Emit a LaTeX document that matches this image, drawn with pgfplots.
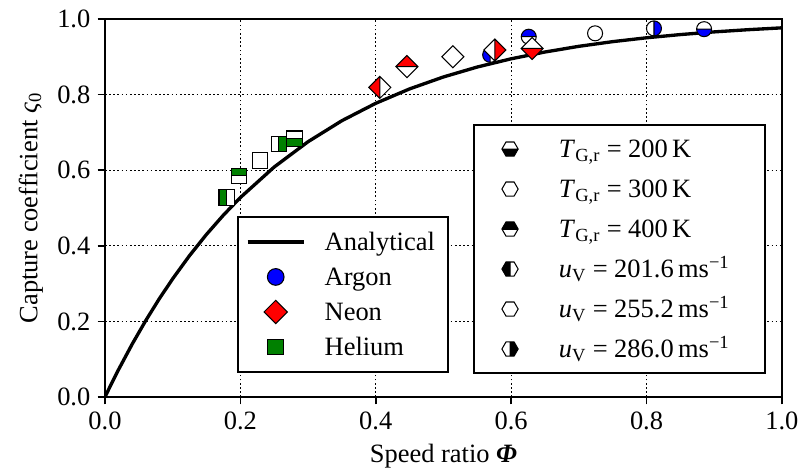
\documentclass[border=0pt]{standalone}
\usepackage{fontspec}
\setmainfont{Liberation Serif}
\usepackage{pgfplots}
\pgfplotsset{compat=1.18}
\definecolor{mgreen}{RGB}{0,128,0}
\newcommand\fs{\fontsize{12.7}{15}\selectfont}
\newcommand\eqs{\hspace{0.24em}=\hspace{0.24em}}
% ---- shapes
\newcommand\shpC{\pgfpathcircle{\pgfpointorigin}{\pgfplotmarksize}}
\newcommand\shpD{\pgfpathmoveto{\pgfqpoint{0pt}{\pgfplotmarksize}}\pgfpathlineto{\pgfqpoint{\pgfplotmarksize}{0pt}}\pgfpathlineto{\pgfqpoint{0pt}{-\pgfplotmarksize}}\pgfpathlineto{\pgfqpoint{-\pgfplotmarksize}{0pt}}\pgfpathclose}
\newcommand\shpS{\pgfpathrectangle{\pgfqpoint{-\pgfplotmarksize}{-\pgfplotmarksize}}{\pgfqpoint{2\pgfplotmarksize}{2\pgfplotmarksize}}}
\newcommand\shpH{\pgfpathmoveto{\pgfqpoint{\pgfplotmarksize}{0pt}}\pgfpathlineto{\pgfqpoint{0.5\pgfplotmarksize}{0.866\pgfplotmarksize}}\pgfpathlineto{\pgfqpoint{-0.5\pgfplotmarksize}{0.866\pgfplotmarksize}}\pgfpathlineto{\pgfqpoint{-\pgfplotmarksize}{0pt}}\pgfpathlineto{\pgfqpoint{-0.5\pgfplotmarksize}{-0.866\pgfplotmarksize}}\pgfpathlineto{\pgfqpoint{0.5\pgfplotmarksize}{-0.866\pgfplotmarksize}}\pgfpathclose}
% ---- clips (kept inside the mark's own extent)
\newcommand\clL{\pgfpathrectangle{\pgfqpoint{-1.05\pgfplotmarksize}{-1.05\pgfplotmarksize}}{\pgfqpoint{1.05\pgfplotmarksize}{2.1\pgfplotmarksize}}}
\newcommand\clR{\pgfpathrectangle{\pgfqpoint{0pt}{-1.05\pgfplotmarksize}}{\pgfqpoint{1.05\pgfplotmarksize}{2.1\pgfplotmarksize}}}
\newcommand\clT{\pgfpathrectangle{\pgfqpoint{-1.05\pgfplotmarksize}{0pt}}{\pgfqpoint{2.1\pgfplotmarksize}{1.05\pgfplotmarksize}}}
\newcommand\clB{\pgfpathrectangle{\pgfqpoint{-1.05\pgfplotmarksize}{-1.05\pgfplotmarksize}}{\pgfqpoint{2.1\pgfplotmarksize}{1.05\pgfplotmarksize}}}
% ---- dividers
\newcommand\dvV{\pgfpathmoveto{\pgfqpoint{0pt}{-\pgfplotmarksize}}\pgfpathlineto{\pgfqpoint{0pt}{\pgfplotmarksize}}}
\newcommand\dvVh{\pgfpathmoveto{\pgfqpoint{0pt}{-0.866\pgfplotmarksize}}\pgfpathlineto{\pgfqpoint{0pt}{0.866\pgfplotmarksize}}}
\newcommand\dvH{\pgfpathmoveto{\pgfqpoint{-\pgfplotmarksize}{0pt}}\pgfpathlineto{\pgfqpoint{\pgfplotmarksize}{0pt}}}
\newcommand\defhalf[4]{\pgfdeclareplotmark{#1}{%
  \begin{pgfscope}\pgfsetfillcolor{white}#2\pgfusepath{fill}\end{pgfscope}%
  \begin{pgfscope}#3\pgfusepath{clip}#2\pgfusepath{fill}\end{pgfscope}%
  #2#4\pgfusepath{stroke}}}
\newcommand\defnone[2]{\pgfdeclareplotmark{#1}{%
  \begin{pgfscope}\pgfsetfillcolor{white}#2\pgfusepath{fill}\end{pgfscope}%
  #2\pgfusepath{stroke}}}
\newcommand\deffull[2]{\pgfdeclareplotmark{#1}{#2\pgfusepath{fill,stroke}}}
\defhalf{cL}{\shpC}{\clL}{\dvV}\defhalf{cR}{\shpC}{\clR}{\dvV}
\defhalf{cT}{\shpC}{\clT}{\dvH}\defhalf{cB}{\shpC}{\clB}{\dvH}
\defhalf{dL}{\shpD}{\clL}{\dvV}\defhalf{dR}{\shpD}{\clR}{\dvV}
\defhalf{dT}{\shpD}{\clT}{\dvH}\defhalf{dB}{\shpD}{\clB}{\dvH}
\defhalf{sL}{\shpS}{\clL}{\dvV}\defhalf{sR}{\shpS}{\clR}{\dvV}
\defhalf{sT}{\shpS}{\clT}{\dvH}\defhalf{sB}{\shpS}{\clB}{\dvH}
\defhalf{hL}{\shpH}{\clL}{\dvVh}\defhalf{hR}{\shpH}{\clR}{\dvVh}
\defhalf{hT}{\shpH}{\clT}{\dvH}\defhalf{hB}{\shpH}{\clB}{\dvH}
\defnone{cN}{\shpC}\defnone{dN}{\shpD}\defnone{sN}{\shpS}\defnone{hN}{\shpH}
\deffull{cF}{\shpC}\deffull{dF}{\shpD}\deffull{sF}{\shpS}
\pgfplotsset{
  ar/.style={only marks, mark size=3.6pt, mark options={fill=blue, draw=black, line width=0.5pt}, forget plot},
  ne/.style={only marks, mark size=5.3pt, mark options={fill=red, draw=black, line width=0.5pt}, forget plot},
  he/.style={only marks, mark size=3.75pt, mark options={fill=mgreen, draw=black, line width=0.5pt}, forget plot},
  base/.style={scale only axis, width=325pt, height=181.5pt, at={(0,0)}, anchor=south west,
    xmin=0, xmax=1, ymin=0, ymax=1},
}
\newcommand\legmark[3]{\addlegendimage{legend image code/.code={\path[draw=none,fill=none] (0pt,-5pt) rectangle (37pt,5pt);
  \draw[only marks, mark=#1, mark size=#2, mark options={fill=#3, draw=black, line width=0.5pt}] plot coordinates {(13.5pt,0pt)};}}}
\begin{document}
\begin{tikzpicture}
\begin{axis}[base,
  xtick={0,0.2,0.4,0.6,0.8,1}, ytick={0,0.2,0.4,0.6,0.8,1},
  tick pos=left, tick align=outside, major tick length=3.5pt,
  tick style={black, line width=0.8pt},
  axis line style={black, line width=1pt},
  grid=major, major grid style={black, line width=0.6pt, dash pattern=on 0.8pt off 1.2pt},
  tick label style={font=\fs},
  /pgf/number format/assume math mode=true,
  xticklabel style={/pgf/number format/.cd, fixed, fixed zerofill, precision=1},
  yticklabel style={/pgf/number format/.cd, fixed, fixed zerofill, precision=1},
  xlabel={Speed ratio \textbf{\textit{Φ}}}, ylabel={Capture coefficient \textit{ς}\textsubscript{0}},
  label style={font=\fs},
  legend cell align=left,
  legend style={at={(0.195,0.479)}, anchor=north west, draw=black, line width=1pt, fill=white,
    inner xsep=3.8pt, inner ysep=5pt, row sep=2.8pt, font=\fs,
    nodes={inner sep=0pt, text height=11pt, text depth=3pt}},
]
\addplot[black, line width=1.6pt, line join=round, forget plot] coordinates {
(0,0) (0.01,0.0368) (0.02,0.0723) (0.04,0.1393) (0.06,0.2015) (0.08,0.2592) (0.1,0.3127)
(0.125,0.3742) (0.15,0.4302) (0.175,0.4812) (0.2,0.5276) (0.25,0.6084) (0.3,0.6753)
(0.35,0.7309) (0.4,0.7769) (0.45,0.8150) (0.5,0.8466) (0.55,0.8729) (0.6,0.8946)
(0.65,0.9126) (0.7,0.9276) (0.75,0.9400) (0.8,0.9502) (0.85,0.9587) (0.9,0.9658)
(0.95,0.9716) (1.0,0.9765)};
% Argon
\addplot[ar, mark=cL] coordinates {(0.569,0.905)};
\addplot[ar, mark=cT] coordinates {(0.626,0.953)};
\addplot[ar, mark=cN] coordinates {(0.724,0.962)};
\addplot[ar, mark=cR] coordinates {(0.811,0.975)};
\addplot[ar, mark=cB] coordinates {(0.885,0.973)};
% Neon
\addplot[ne, mark=dL] coordinates {(0.406,0.819)};
\addplot[ne, mark=dT] coordinates {(0.446,0.874)};
\addplot[ne, mark=dN] coordinates {(0.514,0.900)};
\addplot[ne, mark=dR] coordinates {(0.576,0.918)};
\addplot[ne, mark=dB] coordinates {(0.631,0.922)};
% Helium
\addplot[he, mark=sL] coordinates {(0.180,0.527)};
\addplot[he, mark=sT] coordinates {(0.198,0.585)};
\addplot[he, mark=sN] coordinates {(0.229,0.625)};
\addplot[he, mark=sR] coordinates {(0.257,0.669)};
\addplot[he, mark=sB] coordinates {(0.280,0.683)};
\addlegendimage{legend image code/.code={\path[draw=none,fill=none] (0pt,-5pt) rectangle (37pt,5pt); \draw[black, line width=1.6pt] (0pt,0pt) -- (27pt,0pt);}}
\addlegendentry{\makebox[55.5pt][l]{Analytical}}
\legmark{cF}{4pt}{blue}\addlegendentry{Argon}
\legmark{dF}{5.6pt}{red}\addlegendentry{Neon}
\legmark{sF}{3.75pt}{mgreen}\addlegendentry{Helium}
\end{axis}
\begin{axis}[base, hide axis,
  legend cell align=left,
  legend style={at={(0.5436,0.722)}, anchor=north west, draw=black, line width=1pt, fill=white,
    inner xsep=3.8pt, inner ysep=4.5pt, row sep=5.2pt, font=\fs,
    nodes={inner sep=0pt, text height=11pt, text depth=3pt}},
]
\addplot[draw=none, forget plot] coordinates {(0,0)};
\legmark{hB}{3.9pt}{black}\addlegendentry{\makebox[95pt][l]{\textit{T}\textsubscript{G,r}\eqs 200\,K}}
\legmark{hN}{3.9pt}{black}\addlegendentry{\textit{T}\textsubscript{G,r}\eqs 300\,K}
\legmark{hT}{3.9pt}{black}\addlegendentry{\textit{T}\textsubscript{G,r}\eqs 400\,K}
\legmark{hL}{3.9pt}{black}\addlegendentry{\textit{u}\textsubscript{V}\eqs 201.6\,ms\textsuperscript{−1}}
\legmark{hN}{3.9pt}{black}\addlegendentry{\textit{u}\textsubscript{V}\eqs 255.2\,ms\textsuperscript{−1}}
\legmark{hR}{3.9pt}{black}\addlegendentry{\textit{u}\textsubscript{V}\eqs 286.0\,ms\textsuperscript{−1}}
\end{axis}
\pgfresetboundingbox
\path[use as bounding box] (-50.4pt,-37.4pt) rectangle (335.6pt,190.6pt);
\end{tikzpicture}
\end{document}
